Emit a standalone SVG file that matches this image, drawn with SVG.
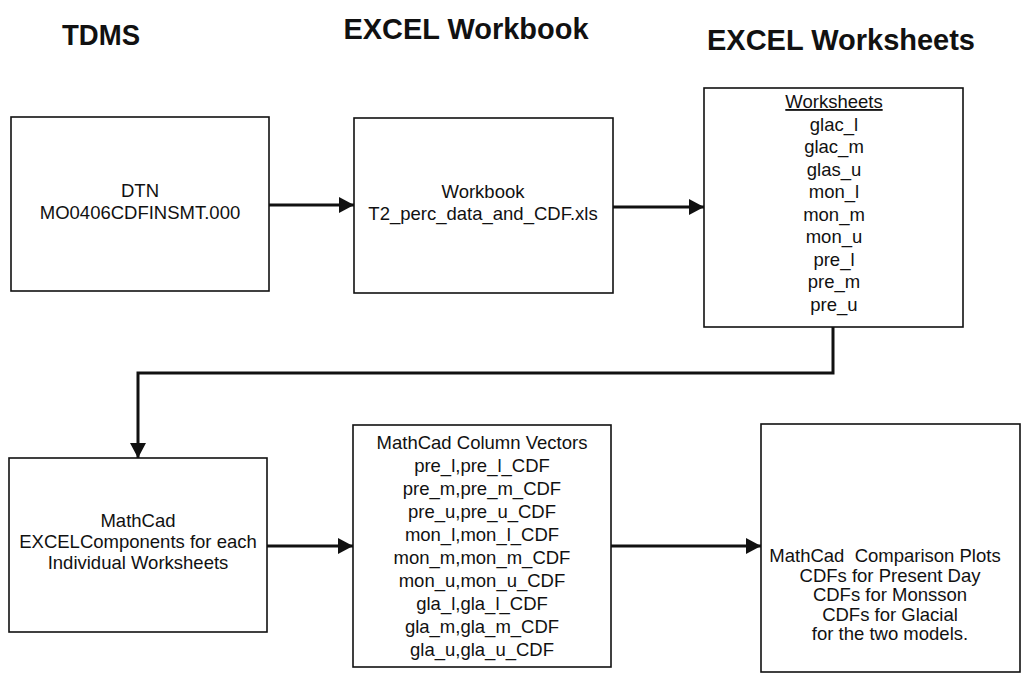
<svg xmlns="http://www.w3.org/2000/svg" width="1022" height="673" viewBox="0 0 1022 673">
<style>
.box{fill:#fff;stroke:#111;stroke-width:1.6}
.t{font-family:"Liberation Sans",Arial,sans-serif;font-size:18.5px;fill:#111;text-anchor:middle}
.h{font-family:"Liberation Sans",Arial,sans-serif;font-size:30px;font-weight:bold;fill:#111;text-anchor:middle}
.c{fill:none;stroke:#111;stroke-width:3}
</style>
<defs>
<marker id="ah" markerUnits="userSpaceOnUse" markerWidth="16" markerHeight="18" refX="15" refY="8" orient="auto">
<path d="M0,0 L15,8 L0,16 Z" fill="#111"/>
</marker>
</defs>
<rect width="1022" height="673" fill="#fff"/>
<g id="headers">
<text class="h" x="101" y="45" textLength="78" lengthAdjust="spacingAndGlyphs">TDMS</text>
<text class="h" x="466" y="39" textLength="245" lengthAdjust="spacingAndGlyphs">EXCEL Workbook</text>
<text class="h" x="841" y="50" textLength="268" lengthAdjust="spacingAndGlyphs">EXCEL Worksheets</text>
</g>
<g id="connectors">
<path class="c" d="M269,205 H354" marker-end="url(#ah)"/>
<path class="c" d="M613,207 H704" marker-end="url(#ah)"/>
<path class="c" d="M833,327 V373 H138 V458" marker-end="url(#ah)"/>
<path class="c" d="M267,546 H353" marker-end="url(#ah)"/>
<path class="c" d="M611,546 H761" marker-end="url(#ah)"/>
</g>
<g id="dtn">
<rect class="box" x="11" y="117" width="258" height="174"/>
<text class="t" x="140" y="197">DTN</text>
<text class="t" x="140" y="219">MO0406CDFINSMT.000</text>
</g>
<g id="workbook">
<rect class="box" x="354" y="118" width="259" height="175"/>
<text class="t" x="483" y="198">Workbook</text>
<text class="t" x="483" y="220">T2_perc_data_and_CDF.xls</text>
</g>
<g id="worksheets">
<rect class="box" x="704" y="88" width="259" height="239"/>
<text class="t" x="834" y="108" text-decoration="underline">Worksheets</text>
<text class="t" x="834" y="130.5">glac_l</text>
<text class="t" x="834" y="153">glac_m</text>
<text class="t" x="834" y="175.5">glas_u</text>
<text class="t" x="834" y="198">mon_l</text>
<text class="t" x="834" y="220.5">mon_m</text>
<text class="t" x="834" y="243">mon_u</text>
<text class="t" x="834" y="265.5">pre_l</text>
<text class="t" x="834" y="288">pre_m</text>
<text class="t" x="834" y="310.5">pre_u</text>
</g>
<g id="mathcad-components">
<rect class="box" x="9" y="458" width="258" height="174"/>
<text class="t" x="138" y="527">MathCad</text>
<text class="t" x="138" y="548">EXCELComponents for each</text>
<text class="t" x="138" y="569">Individual Worksheets</text>
</g>
<g id="column-vectors">
<rect class="box" x="353" y="425" width="258" height="242"/>
<text class="t" x="482" y="449">MathCad Column Vectors</text>
<text class="t" x="482" y="472">pre_l,pre_l_CDF</text>
<text class="t" x="482" y="495">pre_m,pre_m_CDF</text>
<text class="t" x="482" y="518">pre_u,pre_u_CDF</text>
<text class="t" x="482" y="541">mon_l,mon_l_CDF</text>
<text class="t" x="482" y="564">mon_m,mon_m_CDF</text>
<text class="t" x="482" y="587">mon_u,mon_u_CDF</text>
<text class="t" x="482" y="610">gla_l,gla_l_CDF</text>
<text class="t" x="482" y="633">gla_m,gla_m_CDF</text>
<text class="t" x="482" y="656">gla_u,gla_u_CDF</text>
</g>
<g id="comparison-plots">
<rect class="box" x="761" y="424" width="259" height="248"/>
<text class="t" x="885" y="562" xml:space="preserve">MathCad  Comparison Plots</text>
<text class="t" x="890" y="582">CDFs for Present Day</text>
<text class="t" x="890" y="601">CDFs for Monsson</text>
<text class="t" x="890" y="621">CDFs for Glacial</text>
<text class="t" x="890" y="640">for the two models.</text>
</g>
</svg>
